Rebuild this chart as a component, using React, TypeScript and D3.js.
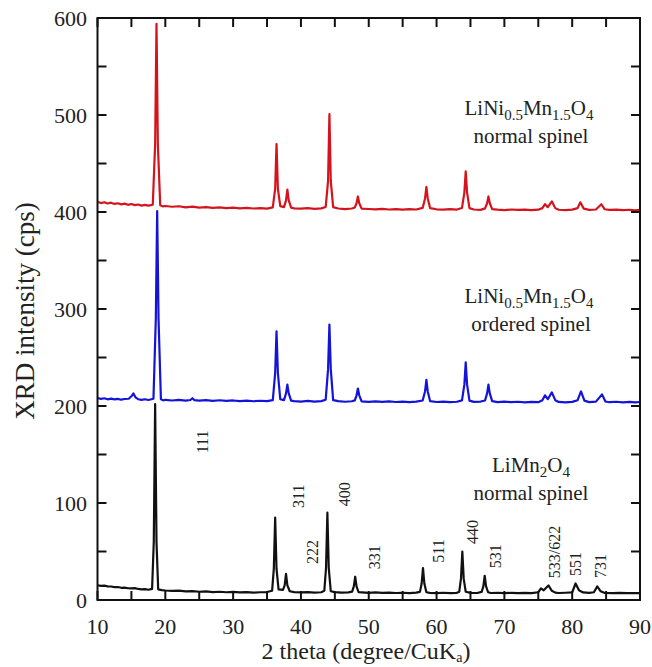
import React from "react";
import * as d3 from "d3";

// ---- data (2θ in degrees, intensity in cps) ----
const xTicks = [10, 20, 30, 40, 50, 60, 70, 80, 90];
const yTicks = [0, 100, 200, 300, 400, 500, 600];

const limn2o4: [number, number][] = [
  [10,15.2],[10.5,14.6],[11,14.8],[11.5,14.1],[12,13.9],[12.5,13.2],[13,13.4],[13.5,12.6],[14,12.8],[14.5,12.1],[15,11.9],[15.5,12.3],[16,11.4],[16.5,11.0],[17,11.2],[17.5,10.6],[18.05,11.5],[18.3,60],[18.5,202],[18.7,60],[18.95,11],[19.5,10.2],[20,9.8],[21,9.4],[22,9.6],[23,8.9],[24,9.1],[25,8.5],[26,8.8],[27,8.2],[28,8.5],[29,8.0],[30,8.3],[31,7.8],[32,8.1],[33,7.6],[34,8.0],[35,8.2],[35.75,9.5],[36.0,32],[36.2,85],[36.4,32],[36.7,11],[37.35,10.5],[37.6,15],[37.8,27],[38.0,15],[38.35,9],[39,8.2],[40,7.8],[41,8.1],[42,7.7],[43,8.0],[43.45,9.5],[43.7,33],[43.9,90],[44.1,33],[44.4,9],[45,8.1],[46,7.6],[47,7.9],[47.55,8.7],[47.8,14],[48.0,24],[48.2,14],[48.5,8],[49,7.8],[50,7.4],[51,7.8],[52,7.3],[53,7.6],[54,7.2],[55,7.5],[56,7.1],[57,7.6],[57.55,8.4],[57.8,17],[58.0,33],[58.2,17],[58.5,8],[59,7.4],[60,7.1],[61,7.5],[62,7.0],[63,7.4],[63.35,8.6],[63.6,22],[63.8,50],[64.0,22],[64.3,8.5],[65,7.3],[66,7.2],[66.65,8.4],[66.9,14],[67.1,25],[67.3,14],[67.6,8],[68,7.2],[69,7.5],[70,7.0],[71,7.4],[72,7.1],[73,7.3],[74,7.0],[75,8],[75.4,12],[75.8,10],[76.5,15],[77,9.5],[77.5,7.6],[78,7.2],[79,7.5],[80,7.8],[80.5,17],[81,10],[81.6,7.8],[82.5,7.3],[83.2,8],[83.7,14],[84.2,9],[84.8,7.2],[86,7.1],[87,7.4],[88,7.0],[89,7.2],[90,7.0]
];

const orderedSpinel: [number, number][] = [
  [10,208.2],[10.5,207.3],[11,208.0],[11.5,206.9],[12,207.6],[12.5,206.8],[13,207.4],[13.5,206.5],[14,207.2],[14.6,207.5],[15.0,210],[15.3,213],[15.6,209],[16,207.0],[16.5,206.3],[17,207.0],[17.5,206.2],[18.25,207.5],[18.6,290],[18.8,401],[19.0,290],[19.35,207],[19.7,205.8],[20,206.4],[21,205.7],[22,206.3],[23,205.5],[23.7,206.2],[24.0,208],[24.3,206],[25,205.6],[26,206.1],[27,205.3],[28,205.9],[29,205.2],[30,205.7],[31,205.0],[32,205.5],[33,204.9],[34,205.4],[35,205.0],[35.85,206],[36.2,234],[36.4,277],[36.6,234],[36.95,207],[37.5,206],[37.8,213],[38.0,222],[38.2,213],[38.55,205.5],[39,205.0],[40,204.6],[41,205.2],[42,204.5],[43,205.0],[43.65,206.5],[44.0,238],[44.2,284],[44.4,238],[44.75,206],[45.5,205],[46.5,204.4],[47.5,204.9],[47.95,205.8],[48.2,211],[48.4,218],[48.6,211],[48.95,204.8],[50,204.3],[51,204.8],[52,204.2],[53,204.7],[54,204.1],[55,204.6],[56,204.0],[57,204.5],[57.95,205.7],[58.3,215],[58.5,227],[58.7,215],[59.05,205],[60,204.1],[61,204.5],[62,203.9],[63,204.4],[63.75,205.8],[64.1,222],[64.3,245],[64.5,222],[64.85,205.5],[65.5,204.2],[66.5,204.6],[67.15,205.7],[67.45,213],[67.65,222],[67.85,213],[68.2,205],[69,204.0],[70,204.5],[71,203.9],[72,204.4],[73,203.8],[74,204.3],[75,203.9],[75.6,206],[76.0,211],[76.4,207],[77.0,214],[77.5,206],[78,204.2],[79,203.8],[80,204.3],[80.8,206],[81.3,215],[81.8,205.5],[82.5,204],[83.5,204.5],[84.4,212],[84.9,204.6],[85.5,203.9],[86.5,204.4],[87.5,203.8],[88.5,204.2],[89.3,203.7],[90,204.1]
];

const normalSpinel: [number, number][] = [
  [10,410.5],[10.5,409.2],[11,410.1],[11.5,408.8],[12,409.6],[12.5,408.3],[13,409.0],[13.5,407.9],[14,408.6],[14.5,407.4],[15,408.2],[15.5,407.1],[16,407.7],[16.5,406.6],[17,407.3],[17.5,406.5],[18.15,407.5],[18.5,470],[18.7,594],[18.9,470],[19.25,407],[19.6,405.8],[20,406.2],[21,405.4],[22,405.9],[23,404.8],[24,405.5],[25,404.6],[26,405.1],[27,404.2],[28,404.8],[29,404.0],[30,404.5],[31,403.7],[32,404.3],[33,403.6],[34,404.0],[35,403.5],[35.85,404.8],[36.2,424],[36.4,470],[36.6,424],[36.95,406],[37.5,405],[37.8,412],[38.0,423],[38.2,412],[38.55,404.5],[39,403.8],[40,403.4],[41,403.9],[42,403.2],[43,403.7],[43.65,405.2],[44.0,432],[44.2,501],[44.4,432],[44.75,405],[45.5,403.6],[46.5,403.0],[47.5,403.6],[47.95,404.7],[48.2,409],[48.4,416],[48.6,409],[48.95,403.5],[50,403.1],[51,402.7],[52,403.2],[53,402.6],[54,403.0],[55,402.5],[56,402.9],[57,402.6],[57.95,404.2],[58.3,414],[58.5,426],[58.7,414],[59.05,404],[60,402.8],[61,402.4],[62,402.9],[63,402.5],[63.75,404.2],[64.1,420],[64.3,442],[64.5,420],[64.85,404],[65.5,402.6],[66.5,402.2],[67.15,403.7],[67.45,409],[67.65,416],[67.85,409],[68.2,403],[69,402.4],[70,402.0],[71,402.6],[72,402.1],[73,402.5],[74,402.0],[75,402.4],[75.6,404],[76.0,408],[76.4,405],[77.0,411],[77.5,404],[78,402.3],[79,402.0],[80,402.5],[80.8,404],[81.2,410],[81.7,403.5],[82.5,402.2],[83.5,402.6],[84.3,408],[84.8,402.8],[85.5,402.1],[86.5,402.5],[87.5,401.9],[88.5,402.3],[89.3,401.8],[90,402.1]
];

// hkl annotations: [label, 2θ, intensity]
const hklLabels: [string, number, number][] = [
  ["111", 25.6, 163],
  ["311", 39.7, 107],
  ["222", 41.8, 49.5],
  ["400", 46.5, 109],
  ["331", 50.9, 44],
  ["511", 60.3, 50.5],
  ["440", 65.4, 70],
  ["531", 68.8, 45],
  ["533/622", 77.4, 49.5],
  ["551", 80.6, 37],
  ["731", 84.3, 35],
];

const W = 652;
const H = 667;
const FONT = "'Liberation Serif', 'Times New Roman', serif";

export default function App() {
  const x = d3.scaleLinear().domain([10, 90]).range([97.5, 640]);
  const y = d3.scaleLinear().domain([0, 600]).range([600, 18]);
  const line = d3
    .line<[number, number]>()
    .x((d) => x(d[0]))
    .y((d) => y(d[1]));

  const minorX = d3.range(10, 90.001, 5);
  const minorY = d3.range(0, 600.001, 50);
  const tl = 9;

  const series = [
    { data: normalSpinel, color: "#d4141c" },
    { data: orderedSpinel, color: "#1414d8" },
    { data: limn2o4, color: "#111111" },
  ];

  const formula = (cx: number, cy: number) => (
    <text x={cx} y={cy} textAnchor="middle" fontSize={21} fontFamily={FONT} fill="#222">
      LiNi
      <tspan fontSize={15} dy={5}>0.5</tspan>
      <tspan dy={-5}>Mn</tspan>
      <tspan fontSize={15} dy={5}>1.5</tspan>
      <tspan dy={-5}>O</tspan>
      <tspan fontSize={15} dy={5}>4</tspan>
    </text>
  );

  return (
    <svg
      width={W}
      height={H}
      style={{ position: "absolute", left: 0, top: 0, background: "#fff" }}
    >
      {/* data lines */}
      {series.map((s, i) => (
        <path key={i} d={line(s.data) || ""} fill="none" stroke={s.color} strokeWidth={2.2} strokeLinejoin="round" />
      ))}

      {/* frame */}
      <rect x={x(10)} y={y(600)} width={x(90) - x(10)} height={y(0) - y(600)} fill="none" stroke="#111" strokeWidth={2} />

      {/* x ticks */}
      {minorX.map((v) => (
        <g key={"xt" + v}>
          <line x1={x(v)} x2={x(v)} y1={y(0)} y2={y(0) - tl} stroke="#111" strokeWidth={2} />
          <line x1={x(v)} x2={x(v)} y1={y(600)} y2={y(600) + tl} stroke="#111" strokeWidth={2} />
        </g>
      ))}
      {/* y ticks */}
      {minorY.map((v) => (
        <g key={"yt" + v}>
          <line x1={x(10)} x2={x(10) + tl} y1={y(v)} y2={y(v)} stroke="#111" strokeWidth={2} />
          <line x1={x(90)} x2={x(90) - tl} y1={y(v)} y2={y(v)} stroke="#111" strokeWidth={2} />
        </g>
      ))}

      {/* tick labels */}
      {xTicks.map((v) => (
        <text key={"xl" + v} x={x(v)} y={634} textAnchor="middle" fontSize={22} fontFamily={FONT} fill="#222">
          {v}
        </text>
      ))}
      {yTicks.map((v) => (
        <text key={"yl" + v} x={87} y={y(v) + 8} textAnchor="end" fontSize={22} fontFamily={FONT} fill="#222">
          {v}
        </text>
      ))}

      {/* axis titles */}
      <text x={366} y={659} textAnchor="middle" fontSize={24} fontFamily={FONT} fill="#222">
        2 theta (degree/CuK
        <tspan fontSize={14} dy={3}>a</tspan>
        <tspan dy={-3}>)</tspan>
      </text>
      <text
        transform={`translate(34,311) rotate(-90)`}
        textAnchor="middle"
        fontSize={27}
        fontFamily={FONT}
        fill="#222"
      >
        XRD intensity (cps)
      </text>

      {/* series labels */}
      {formula(529, 115)}
      <text x={531} y={143} textAnchor="middle" fontSize={21} fontFamily={FONT} fill="#222">normal spinel</text>
      {formula(529, 303)}
      <text x={531} y={331} textAnchor="middle" fontSize={21} fontFamily={FONT} fill="#222">ordered spinel</text>
      <text x={531} y={472} textAnchor="middle" fontSize={21} fontFamily={FONT} fill="#222">
        LiMn
        <tspan fontSize={15} dy={5}>2</tspan>
        <tspan dy={-5}>O</tspan>
        <tspan fontSize={15} dy={5}>4</tspan>
      </text>
      <text x={531} y={500} textAnchor="middle" fontSize={21} fontFamily={FONT} fill="#222">normal spinel</text>

      {/* hkl labels */}
      {hklLabels.map(([t, tx, ty]) => (
        <text
          key={t}
          transform={`translate(${x(tx) + 5},${y(ty)}) rotate(-90)`}
          textAnchor="middle"
          fontSize={16}
          fontFamily={FONT}
          fill="#222"
        >
          {t}
        </text>
      ))}
    </svg>
  );
}
